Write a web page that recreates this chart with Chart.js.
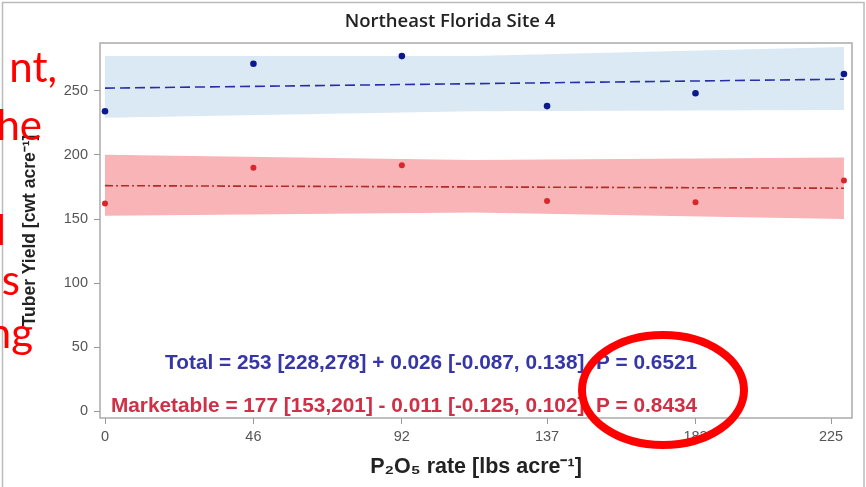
<!DOCTYPE html>
<html>
<head>
<meta charset="utf-8">
<script src="https://cdn.jsdelivr.net/npm/chart.js@4/dist/chart.umd.min.js"></script>
<style>
  body { margin: 0; background: #fff; }
  #wrap { width: 866px; height: 487px; position: relative; }
</style>
</head>
<body>
<div id="wrap"><canvas id="chartCanvas" width="866" height="487"></canvas></div>
<script>
// Datos
var rates = [0, 46, 92, 137, 183, 229];
var totalYield = [234, 271, 277, 238, 248, 263];
var marketableYield = [162, 190, 192, 164, 163, 180];

// Rectas de regresión
var fitX = [0, 229];
var totalFit = [252, 259];
var marketableFit = [176, 174];

// Bandas de confianza
var bandX = [0, 114, 229];
var totalUpper = [277, 277, 284];
var totalLower = [229, 234, 235];
var marketableUpper = [200, 196, 198];
var marketableLower = [152.5, 155, 150];

// Marcas de los ejes
var xTicks = [0, 46, 92, 137, 183, 225];
var yTicks = [0, 50, 100, 150, 200, 250];

var chartTitle = "Northeast Florida Site 4";
var totalText = "Total = 253 [228,278] + 0.026 [-0.087, 0.138]  P = 0.6521";
var marketableText = "Marketable = 177 [153,201] - 0.011 [-0.125, 0.102]  P = 0.8434";

// Texto de la diapositiva que queda a la izquierda
var slideWords = ["nt,", "he", "l", "s", "ing"];

function puntos(xs, ys) {
  return xs.map(function (x, i) { return { x: x, y: ys[i] }; });
}

var chartCanvas = document.getElementById("chartCanvas");
var ctx = chartCanvas.getContext("2d");

var extras = {
  id: "extras",
  beforeDatasetsDraw: function (chart) {
    var c = chart.ctx;
    c.save();
    c.font = "600 18.5px 'Open Sans'";
    c.fillStyle = "#222";
    c.textAlign = "center";
    c.textBaseline = "middle";
    c.fillText(chartTitle, 450, 22);
    c.restore();
  },
  afterDatasetsDraw: function (chart) {
    var c = chart.ctx;
    var a = chart.chartArea;
    var xs = chart.scales.x, ys = chart.scales.y;
    c.save();
    // marco del área
    c.strokeStyle = "#aaa";
    c.lineWidth = 1.5;
    c.strokeRect(a.left, a.top, a.right - a.left, a.bottom - a.top);
    // ecuaciones
    c.font = "bold 20.8px 'Liberation Sans'";
    c.textAlign = "right";
    c.textBaseline = "middle";
    c.fillStyle = "#3636a8";
    c.fillText(totalText, xs.getPixelForValue(183.5), ys.getPixelForValue(37.8));
    c.fillStyle = "#cf3045";
    c.fillText(marketableText, xs.getPixelForValue(183.5), ys.getPixelForValue(4.3));
    c.restore();
  },
  afterDraw: function (chart) {
    var c = chart.ctx;
    c.save();
    // borde de la imagen
    c.strokeStyle = "#bbb";
    c.lineWidth = 1.5;
    c.beginPath();
    c.moveTo(2.5, 487); c.lineTo(2.5, 2.5); c.lineTo(864, 2.5); c.lineTo(864, 487);
    c.stroke();
    // texto rojo de la diapositiva
    c.font = "42px Lato";
    c.fillStyle = "#ff0000";
    c.textAlign = "right";
    c.textBaseline = "alphabetic";
    var px = [57, 42, 6, 20, 33];
    var py = [82, 140, 245, 295, 348];
    slideWords.forEach(function (w, i) { c.fillText(w, px[i], py[i]); });
    // círculo rojo
    c.strokeStyle = "#ff0000";
    c.lineWidth = 8;
    c.beginPath();
    c.ellipse(663, 390, 81, 55, 0, 0, Math.PI * 2);
    c.stroke();
    c.restore();
  }
};

var chartConfig = {
  type: "scatter",
  data: {
    datasets: [
      { data: puntos(bandX, totalUpper), showLine: true, fill: "+1", backgroundColor: "#dbe9f5", borderWidth: 0, pointRadius: 0, order: 3 },
      { data: puntos(bandX, totalLower), showLine: true, borderWidth: 0, pointRadius: 0, order: 3 },
      { data: puntos(bandX, marketableUpper), showLine: true, fill: "+1", backgroundColor: "#f8b4b6", borderWidth: 0, pointRadius: 0, order: 3 },
      { data: puntos(bandX, marketableLower), showLine: true, borderWidth: 0, pointRadius: 0, order: 3 },
      { data: puntos(fitX, totalFit), showLine: true, borderColor: "#2a2ea6", borderWidth: 1.6, borderDash: [10, 5], pointRadius: 0, order: 2 },
      { data: puntos(fitX, marketableFit), showLine: true, borderColor: "#b32a2a", borderWidth: 1.6, borderDash: [8, 3, 2, 3], pointRadius: 0, order: 2 },
      { data: puntos(rates, totalYield), backgroundColor: "#0c1a8c", borderWidth: 0, pointRadius: 3.3, order: 1 },
      { data: puntos(rates, marketableYield), backgroundColor: "#d8262b", borderWidth: 0, pointRadius: 3, order: 1 }
    ]
  },
  options: {
    responsive: false,
    animation: false,
    layout: { padding: { top: 43, right: 14, left: 0, bottom: 0 } },
    plugins: { legend: { display: false }, tooltip: { enabled: false }, title: { display: false } },
    scales: {
      x: {
        type: "linear",
        min: -1.55,
        max: 231.5,
        afterFit: function (s) { s.height = 69; },
        afterBuildTicks: function (s) { s.ticks = xTicks.map(function (v) { return { value: v }; }); },
        ticks: { color: "#555", font: { size: 14.5, family: "'Liberation Sans'" }, padding: 4, maxRotation: 0 },
        grid: { drawOnChartArea: false, drawTicks: true, tickLength: 6, color: "#999" },
        border: { display: false },
        title: { display: true, text: "P\u2082O\u2085 rate [lbs acre\u207B\u00B9]", color: "#222", font: { size: 21.5, weight: "bold", family: "'Liberation Sans'" }, padding: { top: 0, bottom: 7 } }
      },
      y: {
        min: -5.1,
        max: 287.2,
        afterFit: function (s) { s.width = 100; },
        afterBuildTicks: function (s) { s.ticks = yTicks.map(function (v) { return { value: v }; }); },
        ticks: { color: "#555", font: { size: 14.5, family: "'Liberation Sans'" }, padding: 6 },
        grid: { drawOnChartArea: false, drawTicks: true, tickLength: 6, color: "#999" },
        border: { display: false },
        title: { display: true, text: "Tuber Yield [cwt acre\u207B\u00B9]", color: "#222", font: { size: 17.5, weight: "bold", family: "'Liberation Sans'" }, padding: { top: 19.5, bottom: 0 } }
      }
    }
  },
  plugins: [extras]
};

var myChart = new Chart(ctx, chartConfig);
</script>
</body>
</html>
